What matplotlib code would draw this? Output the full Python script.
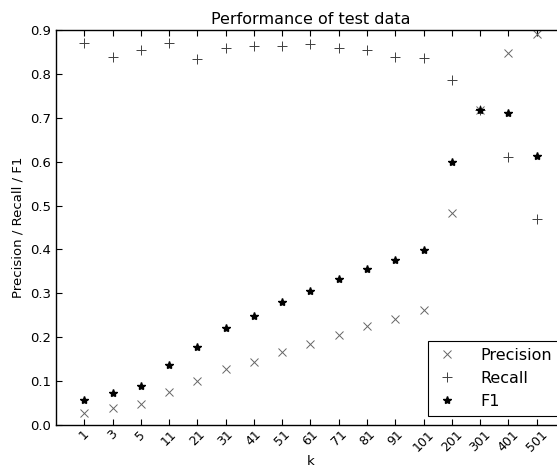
import matplotlib
matplotlib.use("Agg")
import matplotlib.pyplot as plt

k_labels = ["1", "3", "5", "11", "21", "31", "41", "51", "61", "71", "81", "91", "101", "201", "301", "401", "501"]
precision = [0.028, 0.039, 0.047, 0.075, 0.100, 0.128, 0.144, 0.167, 0.185, 0.206, 0.225, 0.242, 0.262, 0.484, 0.718, 0.848, 0.892]
recall = [0.870, 0.838, 0.855, 0.870, 0.835, 0.860, 0.863, 0.863, 0.867, 0.859, 0.855, 0.838, 0.836, 0.786, 0.717, 0.611, 0.469]
f1 = [0.056, 0.073, 0.090, 0.137, 0.178, 0.221, 0.248, 0.280, 0.305, 0.333, 0.355, 0.376, 0.399, 0.599, 0.718, 0.712, 0.614]

plt.rcParams['font.family'] = ['DejaVu Sans']
fig = plt.figure(figsize=(5.57, 4.69), dpi=100)
ax = fig.add_axes([56/557, 1-425/469, (565-56)/557, (425-30)/469])

x = list(range(len(k_labels)))
ax.plot(x, precision, linestyle='none', marker='x', color='0.4', markersize=5.5, mew=0.7, label='Precision')
ax.plot(x, recall, linestyle='none', marker='+', color='0.25', markersize=6.5, mew=0.7, label='Recall')
ax.plot(x, f1, linestyle='none', marker='*', color='k', markersize=6, label='F1')

ax.set_xlim(-1, 17)
ax.set_ylim(0, 0.9)
ax.set_xticks(x)
ax.set_xticklabels(k_labels, rotation=45, fontsize=9)
ax.set_yticks([0.0, 0.1, 0.2, 0.3, 0.4, 0.5, 0.6, 0.7, 0.8, 0.9])
ax.set_yticklabels(["0.0", "0.1", "0.2", "0.3", "0.4", "0.5", "0.6", "0.7", "0.8", "0.9"], fontsize=9.5)
ax.tick_params(direction='in', top=True, right=True, length=4, width=0.8)
ax.tick_params(axis='x', pad=2)
for s in ax.spines.values():
    s.set_linewidth(1.0)

ax.set_title("Performance of test data", fontsize=11.5, pad=4)
ax.set_xlabel("k", fontsize=9.5, labelpad=1)
ax.set_ylabel("Precision / Recall / F1", fontsize=9.5)

leg = ax.legend(loc='lower left', bbox_to_anchor=(428/557, 53/469), bbox_transform=fig.transFigure,
                fontsize=11.5, numpoints=1, fancybox=False, framealpha=1, edgecolor='k',
                borderaxespad=0, handlelength=1.5, handletextpad=1.3, labelspacing=0.5,
                borderpad=0.45)
leg.get_frame().set_linewidth(0.8)

fig.savefig("out.png", dpi=100)
